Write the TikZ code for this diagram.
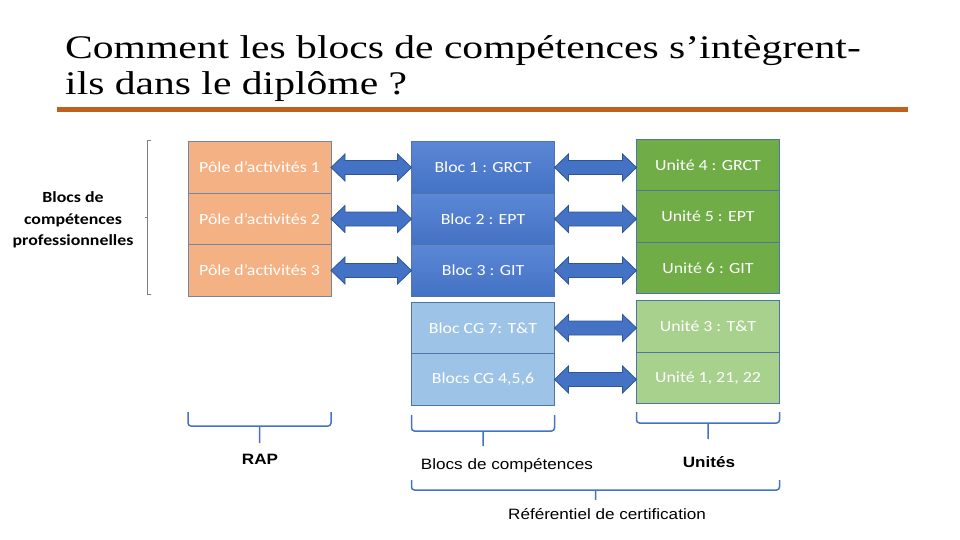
\documentclass[tikz,border=0pt]{standalone}
\usepackage{fontspec}
\setmainfont[FakeStretch=1.15]{Carlito}
\newfontfamily\arialfont[FakeStretch=1.14]{Liberation Sans}
\newfontfamily\titlefont[FakeStretch=1.26]{Liberation Serif}
\usetikzlibrary{positioning,calc}

\definecolor{poleorange}{HTML}{F4B183}
\definecolor{blocblue}{HTML}{4472C4}
\definecolor{blocbluetop}{HTML}{5B87D6}
\definecolor{cgblue}{HTML}{9DC3E6}
\definecolor{unitgreen}{HTML}{70AD47}
\definecolor{cggreen}{HTML}{A9D18E}
\definecolor{edgeblue}{HTML}{4F74A8}
\definecolor{edgegray}{HTML}{7686A0}
\definecolor{arrowedge}{HTML}{2F5597}
\definecolor{rulebrown}{HTML}{C0601E}

% double block arrow between two boxes
\newcommand\twoway[2]{%
  \filldraw[arrowbody] let \p1=(#1.east), \p2=(#2.west) in
    (\x1,\y1) -- (\x1+14pt,\y1+13.5pt) -- (\x1+14pt,\y1+7pt) -- (\x2-14pt,\y1+7pt)
    -- (\x2-14pt,\y1+13.5pt) -- (\x2,\y1) -- (\x2-14pt,\y1-13.5pt) -- (\x2-14pt,\y1-7pt)
    -- (\x1+14pt,\y1-7pt) -- (\x1+14pt,\y1-13.5pt) -- cycle;}

% brace under a group of columns: left node, right node, top, bar, tip
\newcommand\grpbrace[5]{%
  \draw[bracket] let \p1=(#1.west), \p2=(#2.east) in
    (\x1,-#3pt) -- (\x1,-#4pt) -- (\x2,-#4pt) -- (\x2,-#3pt)
    (\x1/2+\x2/2,-#4pt) -- (\x1/2+\x2/2,-#5pt);}

\begin{document}
\begin{tikzpicture}[x=1pt, y=-1pt, node distance=0pt,
    box/.style={rectangle, draw=edgeblue, line width=0.8pt, minimum width=143pt, minimum height=51.5pt,
      inner sep=0pt, outer sep=0pt, text=white, font=\fontsize{15.5}{18}\selectfont},
    pole/.style={box, fill=poleorange, draw=edgegray},
    bloc/.style={box, top color=blocbluetop, bottom color=blocblue},
    cg/.style={box, fill=cgblue},
    unit/.style={box, fill=unitgreen},
    unitcg/.style={box, fill=cggreen},
    arrowbody/.style={fill=blocblue, draw=arrowedge, line width=0.8pt},
    bracket/.style={draw=blocblue, line width=1.5pt, rounded corners=3pt},
    caption/.style={font=\arialfont\fontsize{15}{18}\selectfont},
    boldcaption/.style={font=\arialfont\bfseries\fontsize{15}{18}\selectfont},
    titletxt/.style={inner sep=0pt, anchor=base west, font=\titlefont\fontsize{33}{40}\selectfont}]

    \useasboundingbox (0,0) rectangle (960,540);

    % title
    \node[titletxt] (title1) at (65,59) {Comment les blocs de compétences s’intègrent-};
    \node[titletxt] (title2) at (65,95) {ils dans le diplôme ?};
    \draw[rulebrown, line width=5pt] (57,110) -- (908,110);

    % left label
    \node[align=center, font=\bfseries\fontsize{15.5}{21.5}\selectfont] (blocsprof) at (73,220)
      {Blocs de\\compétences\\professionnelles};
    \draw[gray, line width=0.8pt] (150.5,140) -| (147.5,294) -- (150.5,294);
    \draw[gray, line width=0.8pt] (147.5,217) -- (145,217);

    % columns
    \node[pole] (pole1) at (259.5,167.5) {Pôle d’activités 1};
    \node[pole, below=of pole1] (pole2) {Pôle d’activités 2};
    \node[pole, below=of pole2] (pole3) {Pôle d’activités 3};

    \node[bloc] (bloc1) at (483,167.5) {Bloc 1 : GRCT};
    \node[bloc, below=of bloc1] (bloc2) {Bloc 2 : EPT};
    \node[bloc, below=of bloc2] (bloc3) {Bloc 3 : GIT};
    \node[cg, below=6pt of bloc3] (cg7) {Bloc CG 7: T\&T};
    \node[cg, below=of cg7] (cg456) {Blocs CG 4,5,6};

    \node[unit] (unit4) at (708,165) {Unité 4 : GRCT};
    \node[unit, below=of unit4] (unit5) {Unité 5 : EPT};
    \node[unit, below=of unit5] (unit6) {Unité 6 : GIT};
    \node[unitcg, below=7pt of unit6] (unit3) {Unité 3 : T\&T};
    \node[unitcg, below=of unit3] (unit1) {Unité 1, 21, 22};

    % arrows
    \twoway{pole1}{bloc1}
    \twoway{pole2}{bloc2}
    \twoway{pole3}{bloc3}
    \twoway{bloc1}{unit4}
    \twoway{bloc2}{unit5}
    \twoway{bloc3}{unit6}
    \twoway{cg7}{unit3}
    \twoway{cg456}{unit1}

    % braces
    \grpbrace{pole3}{pole3}{412}{426}{443}
    \grpbrace{cg456}{cg456}{415}{431}{446}
    \grpbrace{unit1}{unit1}{412}{423}{439}
    \grpbrace{cg456}{unit1}{480}{490}{500}

    \node[boldcaption] (rap) at (260,459) {RAP};
    \node[caption] (blocscap) at (507,466) {Blocs de compétences};
    \node[boldcaption] (unitcap) at (709,462) {Unités};
    \node[caption] (refcap) at (607,514) {Référentiel de certification};
\end{tikzpicture}
\end{document}
